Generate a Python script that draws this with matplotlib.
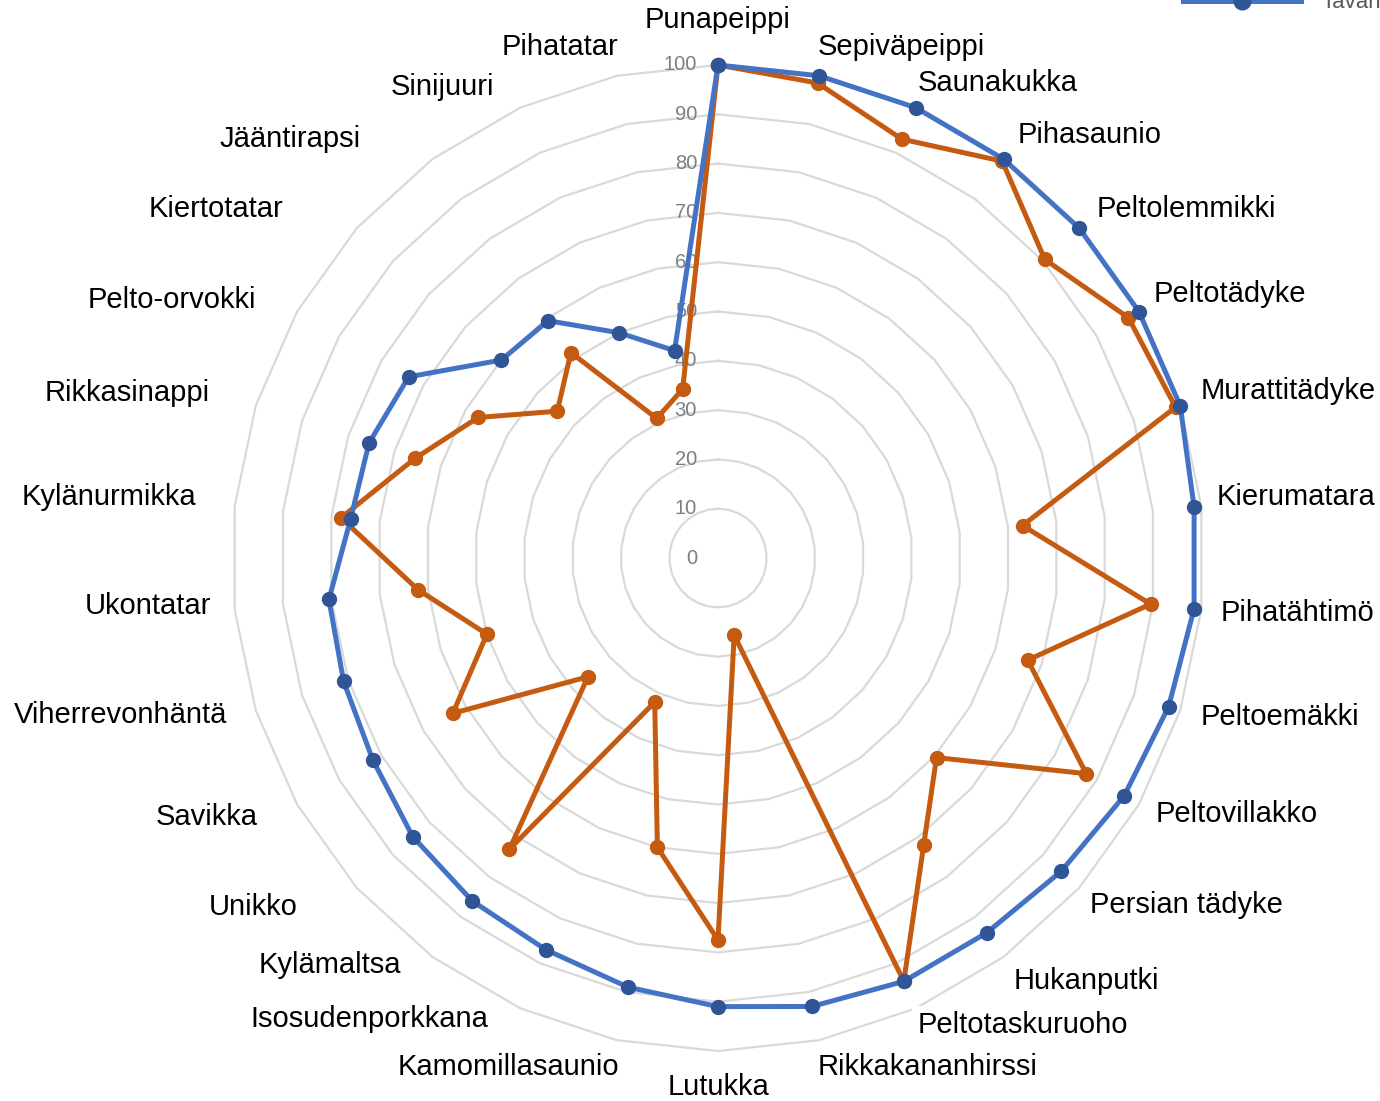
import numpy as np
import matplotlib
matplotlib.use("Agg")
import matplotlib.pyplot as plt
from matplotlib.lines import Line2D

plt.rcParams['font.family'] = ['Liberation Sans', 'DejaVu Sans']

categories = ["Punapeippi", "Sepiväpeippi", "Saunakukka", "Pihasaunio", "Peltolemmikki",
              "Peltotädyke", "Murattitädyke", "Kierumatara", "Pihatähtimö", "Peltoemäkki",
              "Peltovillakko", "Persian tädyke", "Hukanputki", "Peltotaskuruoho",
              "Rikkakananhirssi", "Lutukka", "Kamomillasaunio", "Isosudenporkkana",
              "Kylämaltsa", "Unikko", "Savikka", "Viherrevonhäntä", "Ukontatar",
              "Kylänurmikka", "Rikkasinappi", "Pelto-orvokki", "Kiertotatar",
              "Jääntirapsi", "Sinijuuri", "Pihatatar"]
series_blue = [100, 100, 100, 100, 100, 100, 100, 98.5, 98.5, 97.5, 96.5, 95, 94, 94, 93,
               91, 89, 87, 86, 84.5, 82, 81, 80.5, 76, 75.5, 73.5, 60, 59.5, 50, 43]
series_orange = [100, 98.5, 93, 99.5, 90.5, 97.5, 99, 63, 89.5, 67, 87.5, 60.5, 72, 94, 16,
                 77.5, 60, 32, 73, 36, 63, 50, 62, 78, 65.5, 57, 44.5, 51.5, 31, 35]
series_names = ["Tavanomainen", "Luomu"]
r_ticks = [0, 10, 20, 30, 40, 50, 60, 70, 80, 90, 100]

# layout: label offsets (pixels) from the outer ring vertex, (dx, dy up)
label_offsets = [(0, 45), (-1, 29), (2, 25), (14, 24), (17, 19), (15, 18), (20, 15), (15, 9),
                 (19, -3), (20, -7), (17, -10), (11, -17), (10, -24), (2, -17), (-1, -27),
                 (0, -36), (2, -27), (-32, -11), (-31, -8), (-59, -19), (-39, -12), (-29, -5),
                 (-24, 4), (-38, 9), (-46, 13), (-41, 12), (-73, 19), (-72, 20), (-26, 21),
                 (1, 29)]

W, H = 1380, 1101
fig = plt.figure(figsize=(W / 100, H / 100), dpi=100)
cx, cy, rx, ry = 718, 558, 486, 493
ax = fig.add_axes([(cx - rx) / W, (H - cy - ry) / H, 2 * rx / W, 2 * ry / H], projection='polar')
ax.set_aspect('auto')
ax.set_theta_zero_location('N')
ax.set_theta_direction(-1)
ax.set_ylim(0, 100)
ax.grid(False)
ax.spines['polar'].set_visible(False)
ax.set_xticks([])
ax.set_yticks([])
ax.patch.set_alpha(0)

n = len(categories)
theta = np.arange(n) * 2 * np.pi / n
theta_c = np.append(theta, theta[0])

grid_col = '#D9D9D9'
for r in r_ticks[1:]:
    ax.plot(theta_c, [r] * (n + 1), color=grid_col, lw=1.6, zorder=1, clip_on=False)

for r in r_ticks:
    ax.annotate(str(r), xy=(0, r), xytext=(-21, 0), textcoords='offset pixels',
                ha='right', va='center', fontsize=14.5, color='#7F7F7F', zorder=2,
                annotation_clip=False)

o = np.append(series_orange, series_orange[0])
b = np.append(series_blue, series_blue[0])
ax.plot(theta_c, o, color='#C55A11', lw=3.6, marker='o', ms=10, mfc='#C55A11', mec='#C55A11',
        zorder=3, clip_on=False)
ax.plot(theta_c, b, color='#4472C4', lw=3.6, marker='o', ms=10, mfc='#2F5597', mec='#2F5597',
        zorder=4, clip_on=False)

for t, lab, off in zip(theta, categories, label_offsets):
    s = np.sin(t)
    if abs(s) < 1e-6:
        ha = 'center'
    elif s > 0:
        ha = 'left'
    else:
        ha = 'right'
    ax.annotate(lab, xy=(t, 100), xytext=off, textcoords='offset pixels', ha=ha, va='center',
                fontsize=21, color='black', zorder=2, annotation_clip=False,
                bbox=dict(boxstyle='square,pad=0.2', fc='white', ec='none'))

handles = [Line2D([], [], color='#4472C4', lw=3.6, marker='o', ms=12, mfc='#2F5597', mec='#2F5597'),
           Line2D([], [], color='#C55A11', lw=3.6, marker='o', ms=12, mfc='#C55A11', mec='#C55A11')]
fig.legend(handles, series_names, loc='center left', bbox_to_anchor=(1183 / W, 1 - 3 / H),
           ncol=2, frameon=False, fontsize=16, labelcolor='#595959', handlelength=117 / 22,
           handletextpad=0.9, borderpad=0, borderaxespad=0, columnspacing=2)

fig.savefig('out.png', dpi=100)
